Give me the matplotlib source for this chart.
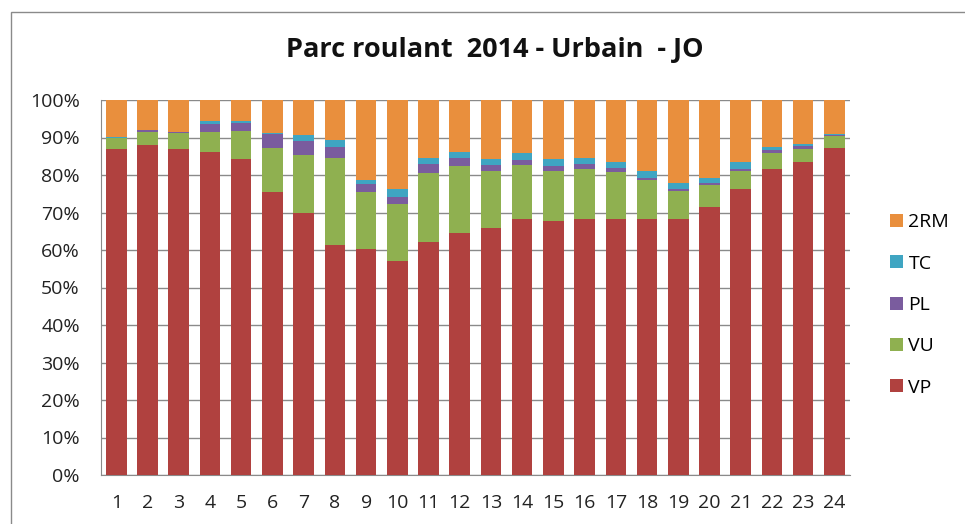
import numpy as np
import matplotlib
matplotlib.use("Agg")
import matplotlib.pyplot as plt
from matplotlib.patches import Rectangle
from matplotlib.ticker import FuncFormatter

# heures de la journee
heures = [str(i) for i in range(1, 25)]

# parts (%) par type de vehicule
vp = [87.0, 88.0, 87.0, 86.1, 84.3, 75.5, 70.0, 61.3, 60.2, 57.2, 62.1, 64.4,
      66.0, 68.2, 67.8, 68.2, 68.2, 68.2, 68.2, 71.6, 76.3, 81.6, 83.5, 87.3]
vu = [2.8, 3.5, 4.3, 5.5, 7.5, 11.7, 15.4, 23.3, 15.3, 15.2, 18.4, 17.9,
      15.2, 14.6, 13.4, 13.4, 12.6, 10.6, 7.6, 5.8, 4.9, 4.2, 3.4, 3.0]
pl = [0.2, 0.4, 0.2, 2.0, 2.2, 3.8, 3.7, 3.0, 2.0, 1.8, 2.4, 2.2,
      1.4, 1.1, 1.2, 1.2, 1.1, 0.5, 0.5, 0.4, 0.3, 0.8, 0.8, 0.4]
tc = [0.1, 0.1, 0.1, 0.7, 0.5, 0.3, 1.5, 1.7, 1.3, 2.0, 1.6, 1.6,
      1.6, 1.9, 1.8, 1.8, 1.7, 1.8, 1.5, 1.5, 2.1, 0.8, 0.5, 0.2]
# le reste jusqu'a 100 % = deux-roues motorises
rm2 = [100 - a - b - c - d for a, b, c, d in zip(vp, vu, pl, tc)]

series = [("VP", vp, "#B0413F"),
          ("VU", vu, "#8FB050"),
          ("PL", pl, "#7A5C9E"),
          ("TC", tc, "#3FA5C2"),
          ("2RM", rm2, "#E98F3D")]

plt.rcParams['font.family'] = ['Open Sans', 'DejaVu Sans']

fig = plt.figure(figsize=(9.65, 5.24), dpi=100)
ax = fig.add_axes([100.7 / 965, 1 - 475 / 524, (850 - 100.7) / 965, 375 / 524])

x = np.arange(len(heures))
bottom = np.zeros(len(heures))
handles = []
for name, vals, col in series:
    b = ax.bar(x, vals, width=0.66, bottom=bottom, color=col, label=name, zorder=3)
    bottom += np.array(vals)
    handles.append(b)

ax.set_xlim(-0.5, len(heures) - 0.5)
ax.set_ylim(0, 100)
ax.set_yticks(range(0, 101, 10))
ax.yaxis.set_major_formatter(FuncFormatter(lambda v, p: "%d%%" % v))
ax.set_xticks(x)
ax.set_xticklabels(heures)
ax.grid(axis='y', color='#8a8a8a', linewidth=1, zorder=0)
for s in ['top', 'right']:
    ax.spines[s].set_visible(False)
ax.spines['left'].set_color('#8a8a8a')
ax.spines['bottom'].set_color('#8a8a8a')
ax.tick_params(axis='both', colors='#8a8a8a', labelcolor='#222222', labelsize=14)
ax.tick_params(axis='x', length=0, pad=14)
ax.tick_params(axis='y', length=0, pad=15)

fig.text(495 / 965, 1 - 50 / 524, "Parc roulant  2014 - Urbain  - JO", ha='center', va='center',
         fontsize=19.5, fontweight='bold', color='#111111')

leg = fig.legend(handles[::-1], [s[0] for s in series][::-1], loc='center left',
                 bbox_to_anchor=(890 / 965, 1 - 305 / 524), frameon=False,
                 fontsize=14, handlelength=0.65, handleheight=0.65, labelspacing=1.2,
                 handletextpad=0.3, borderpad=0, borderaxespad=0)

# cadre du graphique
fig.patches.append(Rectangle((11 / 965, -0.05), 1.2, 1 - 12 / 524 + 0.05, transform=fig.transFigure,
                             fill=False, edgecolor='#8a8a8a', linewidth=1))

fig.savefig("out.png", dpi=100)
